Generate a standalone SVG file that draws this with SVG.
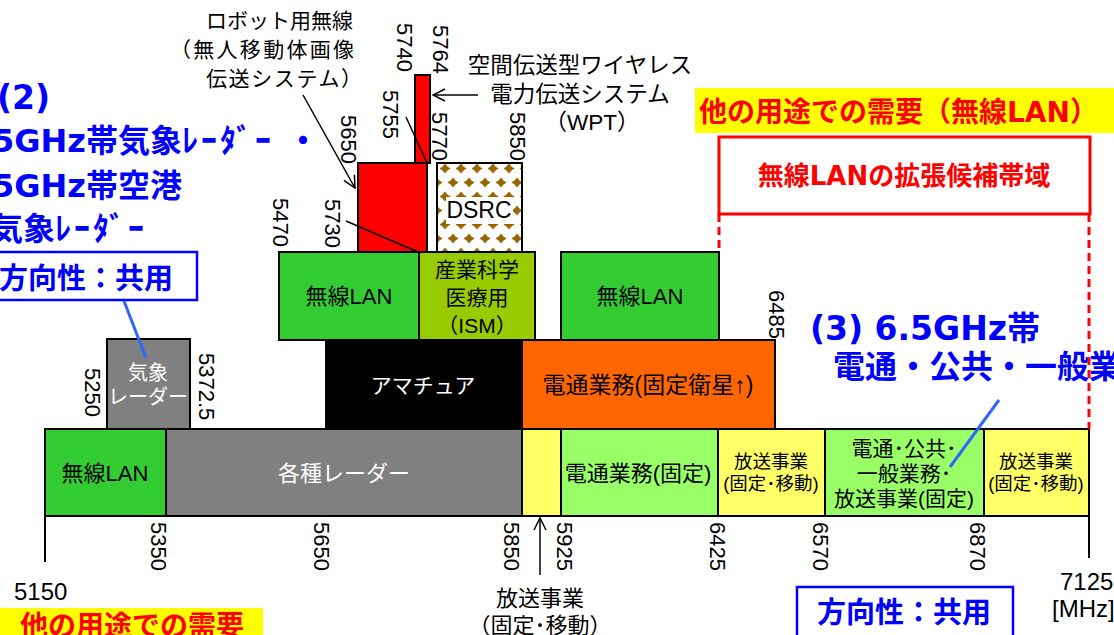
<svg xmlns="http://www.w3.org/2000/svg" width="1114" height="635" viewBox="0 0 1114 635">
<style>
.n{font-family:"Liberation Sans","Noto Sans CJK JP",sans-serif;fill:#000}
.bd{font-family:"DejaVu Sans","Noto Sans CJK JP",sans-serif;font-weight:bold}
.bl{fill:#0000FF}
.rd{fill:#FF0000}
.bx{stroke:#000;stroke-width:2}
.r{font-family:"Liberation Sans",sans-serif;font-size:22px;fill:#000}
.c{text-anchor:middle}
.w{fill:#fff}
.ln{stroke:#000;stroke-width:1.5;fill:none}
.lead{stroke:#3366FF;stroke-width:3;fill:none}
.dash{stroke:#FF0000;stroke-width:3;stroke-dasharray:8 5;fill:none}
</style>
<defs>
<marker id="oa" viewBox="0 0 14 14" refX="13" refY="7" markerWidth="14" markerHeight="14" markerUnits="userSpaceOnUse" orient="auto">
<path d="M1,1 L13,7 L1,13" fill="none" stroke="#000" stroke-width="1.5"/>
</marker>
<pattern id="dsrc" patternUnits="userSpaceOnUse" x="437" y="163" width="16" height="28">
<rect width="16" height="28" fill="#fff"/>
<path id="dm" d="M8,0.5 L10.5,3.5 L13.5,5.5 L10.5,7.5 L8,10.5 L5.5,7.5 L2.5,5.5 L5.5,3.5 Z" fill="#996600"/>
<path d="M0,14.5 L2.5,17.5 L5.5,19.5 L2.5,21.5 L0,24.5 L-2.5,21.5 L-5.5,19.5 L-2.5,17.5 Z" fill="#996600"/>
<path d="M16,14.5 L18.5,17.5 L21.5,19.5 L18.5,21.5 L16,24.5 L13.5,21.5 L10.5,19.5 L13.5,17.5 Z" fill="#996600"/>
</pattern>
</defs>
<rect width="1114" height="635" fill="#fff"/>

<!-- annotations / highlights -->
<g id="demand-wlan">
<rect x="695" y="88" width="419" height="45" fill="#FFFF00"/>
<text class="bd rd" x="699" y="122" font-size="28">他の用途での需要（無線LAN）</text>
</g>
<g id="wlan-ext">
<rect x="719" y="137" width="371" height="77" fill="#fff" stroke="#FF0000" stroke-width="3"/>
<text class="bd rd c" x="904" y="185" font-size="26">無線LANの拡張候補帯域</text>
</g>
<g id="demand-other">
<rect x="0" y="608" width="263" height="27" fill="#FFFF00"/>
<text class="bd rd" x="20" y="636" font-size="28">他の用途での需要</text>
</g>

<g id="title2">
<text class="bd bl" x="-3" y="109" font-size="33">(2)</text>
<text class="bd bl" x="-8" y="152" font-size="32">5GHz帯気象<tspan letter-spacing="3">ﾚｰﾀﾞｰ</tspan><tspan x="287">・</tspan></text>
<text class="bd bl" x="-8" y="197" font-size="32">5GHz帯空港</text>
<text class="bd bl" x="-9" y="240" font-size="32">気象<tspan letter-spacing="3">ﾚｰﾀﾞｰ</tspan></text>
</g>
<g id="dir-left">
<rect x="-20" y="252" width="217" height="48" fill="#fff" stroke="#0000FF" stroke-width="2.5"/>
<text class="bd bl" x="-1" y="289" font-size="29">方向性：共用</text>
</g>
<g id="title3">
<text class="bd bl" x="810" y="340" font-size="33">(3) 6.5GHz帯</text>
<text class="bd bl" x="833" y="378" font-size="32">電通・公共・一般業</text>
</g>
<g id="dir-right">
<rect x="797" y="587" width="216" height="52" fill="#fff" stroke="#0000FF" stroke-width="2.5"/>
<text class="bd bl" x="817" y="623" font-size="29">方向性：共用</text>
</g>

<g id="robot-label">
<text class="n" x="206" y="28" font-size="21">ロボット用無線</text>
<text class="n" x="170" y="57" font-size="21" textLength="184">（無人移動体画像</text>
<text class="n" x="206" y="86" font-size="21" textLength="156">伝送システム）</text>
</g>
<g id="wpt-label">
<text class="n c" x="580" y="73" font-size="22.5">空間伝送型ワイヤレス</text>
<text class="n c" x="580" y="102" font-size="22.5">電力伝送システム</text>
<text class="n c" x="592" y="130" font-size="22.5">（WPT）</text>
</g>

<!-- bottom row -->
<g id="b-wlan"><rect class="bx" x="45" y="429" width="121" height="87" fill="#33CC33"/><text class="n c" x="105" y="481" font-size="22">無線LAN</text></g>
<g id="b-radar"><rect class="bx" x="166" y="429" width="356" height="87" fill="#808080"/><text class="n c w" x="344" y="481" font-size="22">各種レーダー</text></g>
<g id="b-bc1"><rect class="bx" x="522" y="429" width="39" height="87" fill="#FFFF66"/></g>
<g id="b-fixed"><rect class="bx" x="561" y="429" width="157" height="87" fill="#99FF66"/><text class="n c" x="638" y="481" font-size="22">電通業務(固定)</text></g>
<g id="b-bc2"><rect class="bx" x="718" y="429" width="107" height="87" fill="#FFFF66"/><text class="n c" x="771" y="468" font-size="18.5">放送事業</text><text class="n c" x="771" y="490" font-size="18.5">(固定･移動)</text></g>
<g id="b-pub"><rect class="bx" x="825" y="429" width="159" height="87" fill="#99FF66"/><text class="n c" x="904" y="456" font-size="21">電通･公共･</text><text class="n c" x="904" y="481" font-size="21">一般業務･</text><text class="n c" x="904" y="506" font-size="21">放送事業(固定)</text></g>
<g id="b-bc3"><rect class="bx" x="984" y="429" width="105" height="87" fill="#FFFF66"/><text class="n c" x="1036" y="468" font-size="18.5">放送事業</text><text class="n c" x="1036" y="490" font-size="18.5">(固定･移動)</text></g>

<!-- middle row -->
<g id="m-wx"><rect class="bx" x="107" y="339" width="83" height="90" fill="#808080"/><text class="n c w" x="148" y="380" font-size="20">気象</text><text class="n c w" x="148" y="404" font-size="20">レーダー</text></g>
<g id="m-ham"><rect class="bx" x="326" y="340" width="196" height="89" fill="#000"/><text class="n c w" x="423" y="393" font-size="21">アマチュア</text></g>
<g id="m-sat"><rect class="bx" x="522" y="340" width="253" height="89" fill="#FF6600"/><text class="n c" x="648" y="393" font-size="23">電通業務(固定衛星↑)</text></g>

<!-- upper row -->
<g id="u-wlan1"><rect class="bx" x="279" y="252" width="140" height="88" fill="#33CC33"/><text class="n c" x="349" y="304" font-size="22">無線LAN</text></g>
<g id="u-ism"><rect class="bx" x="419" y="252" width="116" height="88" fill="#99CC00"/><text class="n c" x="477" y="277" font-size="21">産業科学</text><text class="n c" x="477" y="305" font-size="21">医療用</text><text class="n c" x="477" y="333" font-size="21">（ISM）</text></g>
<g id="u-wlan2"><rect class="bx" x="561" y="252" width="158" height="88" fill="#33CC33"/><text class="n c" x="640" y="304" font-size="22">無線LAN</text></g>

<!-- top -->
<g id="t-robot"><rect class="bx" x="358" y="163" width="69" height="89" fill="#FF0000"/></g>
<g id="t-wpt"><rect class="bx" x="415" y="75" width="15" height="88" fill="#FF0000"/></g>
<g id="t-dsrc"><rect class="bx" x="437" y="163" width="85" height="89" fill="url(#dsrc)"/><rect x="446" y="197" width="67" height="27" fill="#fff"/><text class="n c" x="479" y="218" font-size="23">DSRC</text></g>

<!-- connectors -->
<g id="connectors">
<line class="ln" x1="303" y1="95" x2="355" y2="188" marker-end="url(#oa)"/>
<line class="ln" x1="406" y1="117" x2="427" y2="163"/>
<line class="ln" x1="346" y1="221" x2="418" y2="252"/>
<line class="ln" x1="478" y1="95" x2="433" y2="95" marker-end="url(#oa)"/>
<line class="ln" x1="540" y1="575" x2="540" y2="518" marker-end="url(#oa)"/>
<line class="lead" x1="124" y1="301" x2="146" y2="358"/>
<line class="lead" x1="999" y1="400" x2="950" y2="467"/>
<line class="dash" x1="719" y1="214" x2="719" y2="252"/>
<line class="dash" x1="1089" y1="214" x2="1089" y2="429"/>
<line stroke="#000" stroke-width="2" x1="45" y1="516" x2="45" y2="562"/>
<line stroke="#000" stroke-width="2" x1="1089" y1="516" x2="1089" y2="558"/>
</g>

<!-- frequency labels -->
<g id="freq-labels">
<text class="r" transform="translate(397,23) rotate(90)">5740</text>
<text class="r" transform="translate(433,25) rotate(90)">5764</text>
<text class="r" transform="translate(383,90) rotate(90)">5755</text>
<text class="r" transform="translate(432,112) rotate(90)">5770</text>
<text class="r" transform="translate(341,115) rotate(90)">5650</text>
<text class="r" transform="translate(510,112) rotate(90)">5850</text>
<text class="r" transform="translate(273,198) rotate(90)">5470</text>
<text class="r" transform="translate(325,199) rotate(90)">5730</text>
<text class="r" transform="translate(769,290) rotate(90)">6485</text>
<text class="r" transform="translate(85,368) rotate(90)">5250</text>
<text class="r" transform="translate(199,353) rotate(90)">5372.5</text>
<text class="r" transform="translate(151,522) rotate(90)">5350</text>
<text class="r" transform="translate(314,522) rotate(90)">5650</text>
<text class="r" transform="translate(504,522) rotate(90)">5850</text>
<text class="r" transform="translate(557,522) rotate(90)">5925</text>
<text class="r" transform="translate(710,522) rotate(90)">6425</text>
<text class="r" transform="translate(813,522) rotate(90)">6570</text>
<text class="r" transform="translate(970,522) rotate(90)">6870</text>
<text class="n" x="14" y="600" font-size="24">5150</text>
<text class="n" x="1060" y="590" font-size="24">7125</text>
<text class="n" x="1052" y="617" font-size="24">[MHz]</text>
<text class="n c" x="540" y="606" font-size="22">放送事業</text>
<text class="n c" x="540" y="633" font-size="22">（固定･移動）</text>
</g>
</svg>
